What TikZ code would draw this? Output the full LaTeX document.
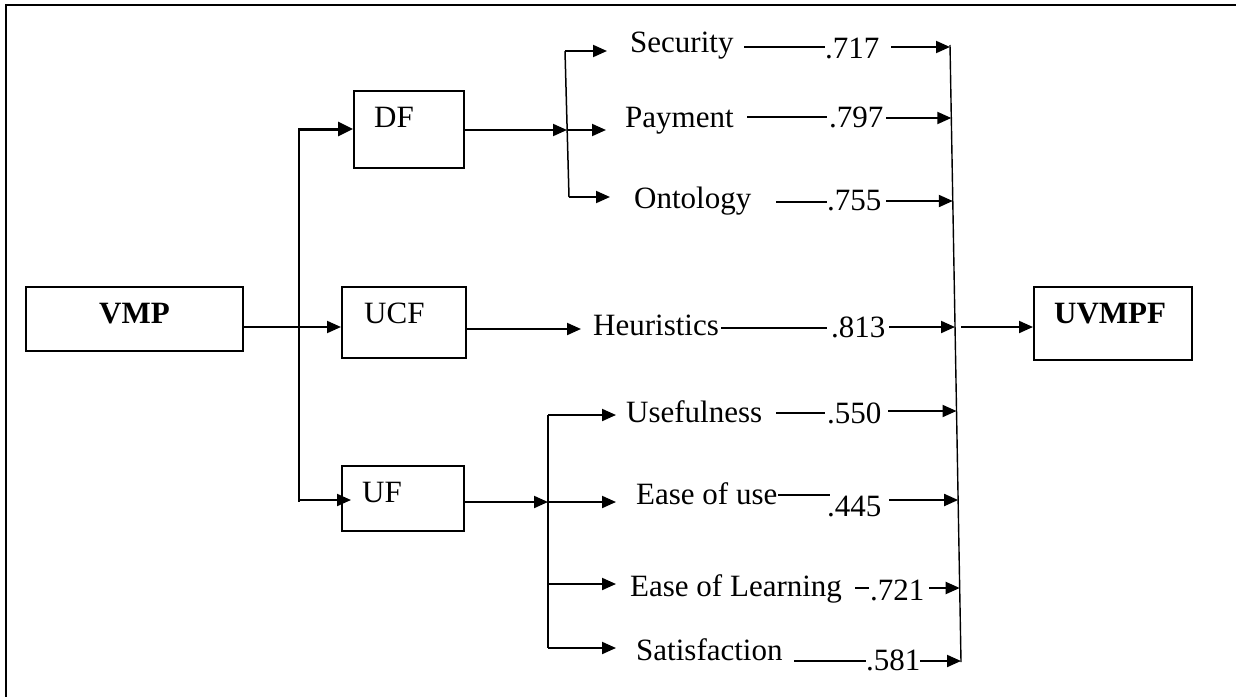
\documentclass[tikz,border=0pt]{standalone}
\usepackage{fontspec}
\setmainfont{Liberation Serif}
\usetikzlibrary{arrows.meta}
\newcommand{\fsz}{\fontsize{31}{36}\selectfont}
\tikzset{
  box/.style={draw, line width=1.5pt, inner sep=0pt, anchor=north west},
  lbl/.style={inner sep=0pt, anchor=base west, font=\fsz},
  blbl/.style={inner sep=0pt, anchor=base west, font=\fsz\bfseries},
  arr/.style={line width=2pt, -{Triangle[length=14pt,width=12pt]}},
  thinline/.style={line width=1.5pt},
  collect/.style={line width=1.4pt},
}
\begin{document}
\begin{tikzpicture}[x=1pt,y=-1pt]
\useasboundingbox (0,0) rectangle (1236,696);
% frame (top and left edges visible)
\coordinate (fbl) at (6,720);
\coordinate (ftl) at (6,5);
\coordinate (ftr) at (1260,5);
\draw[line width=1.4pt] (fbl) -- (ftl) -- (ftr);

% boxes
\node[box, minimum width=217pt, minimum height=64pt] (vmp) at (25,286) {};
\node[box, minimum width=110pt, minimum height=77pt] (df) at (353,90) {};
\node[box, minimum width=124pt, minimum height=71pt] (ucf) at (341,286) {};
\node[box, minimum width=122pt, minimum height=65pt] (uf) at (341,465) {};
\node[box, minimum width=158pt, minimum height=73pt] (uvmpf) at (1033,286) {};

% box texts
\node[blbl] (vmpt) at (99,323) {VMP};
\node[lbl] (dft) at (374,127) {DF};
\node[lbl] (ucft) at (364,323) {UCF};
\node[lbl] (uft) at (362,502) {UF};
\node[blbl] (uvmpft) at (1054,323) {UVMPF};

% factor labels
\node[lbl] (sec) at (630,52) {Security};
\node[lbl] (pay) at (625,127) {Payment};
\node[lbl] (ont) at (634,208) {Ontology};
\node[lbl] (heu) at (593,335) {Heuristics};
\node[lbl] (use) at (626,422) {Usefulness};
\node[lbl] (eou) at (636,504) {Ease of use};
\node[lbl] (eol) at (630,596) {Ease of Learning};
\node[lbl] (sat) at (636,660) {Satisfaction};

% numbers
\node[lbl] (n717) at (825,58) {.717};
\node[lbl] (n797) at (829,127) {.797};
\node[lbl] (n755) at (827,210) {.755};
\node[lbl] (n813) at (831,337) {.813};
\node[lbl] (n550) at (827,423) {.550};
\node[lbl] (n445) at (827,516) {.445};
\node[lbl] (n721) at (870,600) {.721};
\node[lbl] (n581) at (866,670) {.581};

% VMP distribution
\coordinate (vtop) at (299,128);
\coordinate (vbot) at (299,502);
\draw[line width=2pt] (vtop) -- (vbot);
\coordinate (dfin) at (299,129);
\draw[line width=3pt, -{Triangle[length=15pt,width=14pt]}] (dfin) -- (dfin -| df.west);
\coordinate (vmpo) at (242,327);
\draw[arr] (vmpo) -- (vmpo -| ucf.west);
\coordinate (ufin) at (299,500);
\draw[arr] (ufin) -- ([xshift=10pt]ufin -| uf.west);

% DF bracket
\coordinate (dfo) at (463,130);
\coordinate (db1) at (565,51);
\coordinate (db2) at (567,130);
\coordinate (db3) at (569,197);
\draw[arr] (dfo) -- (db2);
\draw[thinline] (db1) -- (db3);
\draw[arr] (db1) -- (607,51);
\draw[arr] (db2) -- (606,130);
\draw[arr] (db3) -- (610,197);

% UCF out
\coordinate (ucfo) at (465,329);
\draw[arr] (ucfo) -- (581,329);

% UF bracket
\coordinate (ufo) at (463,502);
\coordinate (ub1) at (548,415);
\coordinate (ub2) at (548,502);
\coordinate (ub3) at (548,584);
\coordinate (ub4) at (548,648);
\draw[arr] (ufo) -- (ub2);
\draw[thinline] (ub1) -- (ub4);
\draw[arr] (ub1) -- (616,415);
\draw[arr] (ub2) -- (616,502);
\draw[arr] (ub3) -- (616,584);
\draw[arr] (ub4) -- (616,648);

% label-to-number lines
\draw[thinline] (744,47) -- (825,47);
\draw[thinline] (747,117) -- (827,117);
\draw[thinline] (776,202) -- (827,202);
\draw[thinline] (721,328) -- (827,328);
\draw[thinline] (776,413) -- (825,413);
\draw[thinline] (778,495) -- (830,495);
\draw[thinline] (855,588) -- (869,588);
\draw[thinline] (794,661) -- (866,661);

% collector
\coordinate (ctop) at (950,45);
\coordinate (cbot) at (961,662);
\draw[collect] (ctop) -- (cbot);

% number arrows to collector
\draw[arr] (891,47) -- (950,47);
\draw[arr] (886,118) -- (951.3,118);
\draw[arr] (886,201) -- (952.8,201);
\draw[arr] (889,327) -- (955,327);
\draw[arr] (888,411) -- (956.5,411);
\draw[arr] (889,500) -- (958.1,500);
\draw[arr] (929,588) -- (959.7,588);
\draw[arr] (920,661) -- (961,661);

% to UVMPF
\coordinate (cout) at (961,327);
\draw[arr] (cout) -- (cout -| uvmpf.west);
\end{tikzpicture}
\end{document}
